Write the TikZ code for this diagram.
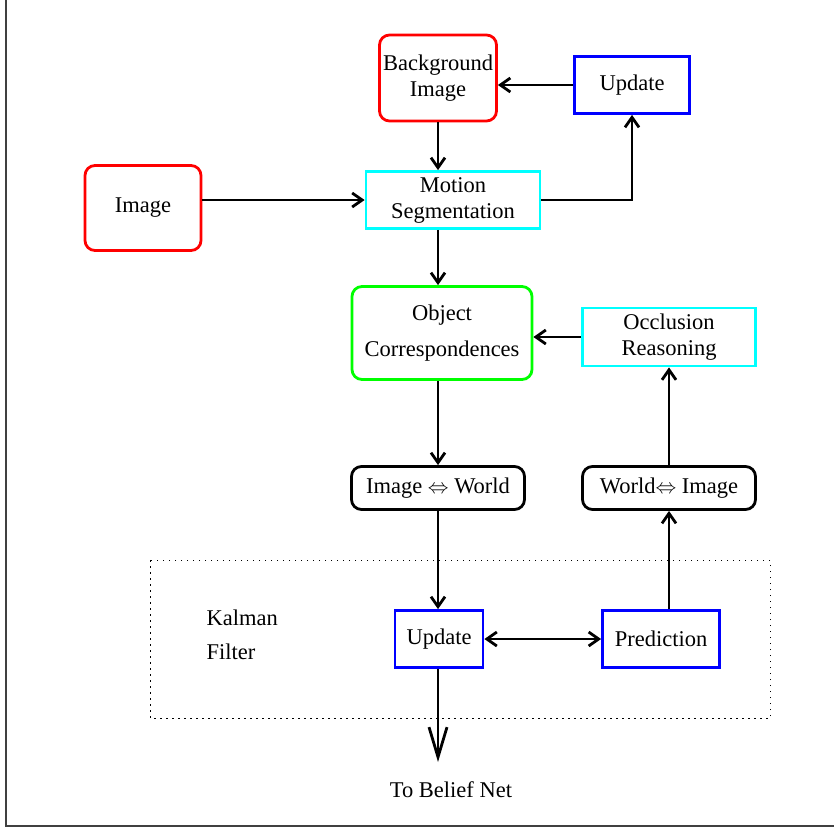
\documentclass[tikz,border=0pt]{standalone}
\usepackage{fontspec}
\setmainfont{Liberation Serif}
\usetikzlibrary{arrows.meta}
\definecolor{segcyan}{RGB}{0,255,255}
\definecolor{objgreen}{RGB}{0,255,0}
\tikzset{
  box/.style={draw, rectangle, line width=2.8pt, align=center, inner sep=0pt,
    font=\fontsize{22.5}{26}\selectfont},
  rbox/.style={box, rounded corners=10pt},
  tip/.tip={Straight Barb[length=10pt,width=14pt,line width=2.8pt]},
  arr/.style={line width=2.8pt, -tip},
  bigarr/.style={line width=2.8pt, -{Straight Barb[length=30pt,width=18pt,line width=2.8pt]}}
}
\begin{document}
\begin{tikzpicture}[x=1pt,y=-1pt]
\useasboundingbox (0,0) rectangle (834,828);
\draw[line width=1.5pt, black!75] (6,0) -- (6,826) -- (834,826);
\node[rbox, draw=red, minimum width=117pt, minimum height=86pt] (bg) at (438,78) {Background\\Image};
\node[box, draw=blue, minimum width=115pt, minimum height=57pt] (upd) at (632,85) {Update};
\node[rbox, draw=red, minimum width=116pt, minimum height=85pt] (img) at (143,208) {Image};
\node[box, draw=segcyan, minimum width=174pt, minimum height=57pt] (seg) at (453,200) {Motion\\Segmentation};
\node[rbox, draw=objgreen, minimum width=180pt, minimum height=93pt,
  font=\fontsize{22.5}{36}\selectfont] (obj) at (442,333) {Object\\Correspondences};
\node[box, draw=segcyan, minimum width=173pt, minimum height=58pt] (occ) at (669,337) {Occlusion\\Reasoning};
\node[rbox, minimum width=173pt, minimum height=43pt] (iw) at (438,488) {Image $\Leftrightarrow$ World};
\node[rbox, minimum width=173pt, minimum height=43pt] (wi) at (669,488) {World$\Leftrightarrow$ Image};
% kalman filter
\draw[line width=1pt, dash pattern=on 1.5pt off 4.5pt] (150,560) rectangle (770,718);
\node[align=left, anchor=west, font=\fontsize{22.5}{34}\selectfont] (kal) at (203,635) {Kalman\\Filter};
\node[box, draw=blue, minimum width=88pt, minimum height=57pt] (kupd) at (439,639) {Update};
\node[box, draw=blue, minimum width=117pt, minimum height=57pt] (pred) at (661,639) {Prediction};
\node[font=\fontsize{22.5}{26}\selectfont] (belief) at (451,790) {To Belief Net};
\coordinate (out) at (438,762);
% connectors
\draw[arr] (bg.south) -- (bg.south |- seg.north);
\draw[arr] (upd.west) -- (upd.west -| bg.east);
\draw[arr] (seg.west -| img.east) -- (seg.west);
\draw[arr] (seg.east) -| (upd.south);
\draw[arr] (bg.south |- seg.south) -- (bg.south |- obj.north);
\draw[arr] (occ.west) -- (occ.west -| obj.east);
\draw[arr] (obj.south -| iw) -- (iw.north);
\draw[arr] (wi.north) -- (occ.south);
\draw[arr] (iw.south) -- (iw.south |- kupd.north);
\draw[arr] (pred.north -| wi) -- (wi.south);
\draw[line width=2.8pt, tip-tip] (kupd.east) -- (pred.west);
\draw[bigarr] (kupd.south -| out) -- (out);
\end{tikzpicture}
\end{document}
